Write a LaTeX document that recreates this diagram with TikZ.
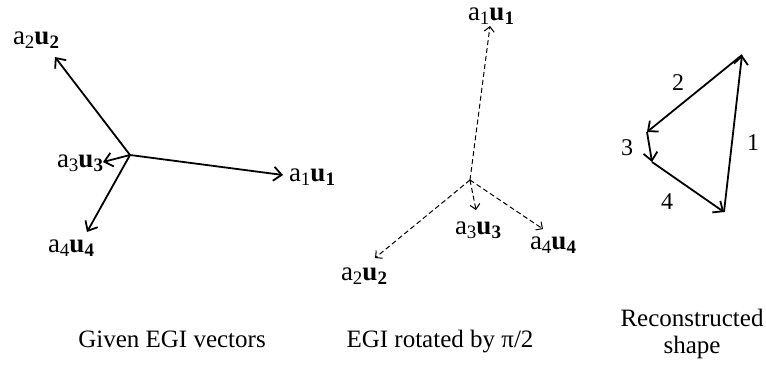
\documentclass[tikz,border=0pt]{standalone}
\usepackage{fontspec}
\setmainfont{Liberation Serif}
\usetikzlibrary{arrows.meta}
\newcommand\vlab[1]{a\raisebox{-0.3ex}{\fontsize{19}{19}\selectfont #1}\textbf{u\raisebox{-0.3ex}{\fontsize{19}{19}\selectfont #1}}}
\tikzset{
  lbl/.style={font=\fontsize{27}{30}\selectfont, inner sep=0pt},
  num/.style={font=\fontsize{24}{26}\selectfont, inner sep=0pt},
  captext/.style={font=\fontsize{25}{27}\selectfont, inner sep=0pt, anchor=base},
  solidvec/.style={line width=1.8pt, -{Straight Barb[length=8pt,width=14pt,line width=1.8pt]}},
  dashvec/.style={line width=1pt, dash pattern=on 5pt off 3pt, -{Straight Barb[length=5pt,width=10pt,line width=1pt]}},
  edgevec/.style={line width=1.8pt, -{Straight Barb[length=8pt,width=14pt,line width=1.8pt]}}
}
\begin{document}
\begin{tikzpicture}[x=1pt,y=-1pt]
\useasboundingbox (0,0) rectangle (766,370);
% left panel
\coordinate (c1) at (130,155);
\coordinate (l1) at (283,175);
\coordinate (l2) at (55,57);
\coordinate (l3) at (103,162);
\coordinate (l4) at (87,232);
\draw[solidvec] (c1) -- (l1);
\draw[solidvec] (c1) -- (l2);
\draw[solidvec] (c1) -- (l3);
\draw[solidvec] (c1) -- (l4);
\node[lbl] (t11) at (312,177) {\vlab{1}};
\node[lbl] (t12) at (36,40) {\vlab{2}};
\node[lbl] (t13) at (80,163) {\vlab{3}};
\node[lbl] (t14) at (71,248) {\vlab{4}};
% middle panel
\coordinate (c2) at (470,180);
\coordinate (m1) at (490,26);
\coordinate (m2) at (375,258);
\coordinate (m3) at (476,210);
\coordinate (m4) at (543,229);
\draw[dashvec] (c2) -- (m1);
\draw[dashvec] (c2) -- (m2);
\draw[dashvec] (c2) -- (m3);
\draw[dashvec] (c2) -- (m4);
\node[lbl] (t21) at (491,16) {\vlab{1}};
\node[lbl] (t22) at (364,276) {\vlab{2}};
\node[lbl] (t23) at (478,230) {\vlab{3}};
\node[lbl] (t24) at (553,245) {\vlab{4}};
% right panel
\coordinate (pt) at (742,55);
\coordinate (pl) at (647,132);
\coordinate (pm) at (652,162);
\coordinate (pb) at (724,212);
\draw[edgevec] (pb) -- (pt);
\draw[edgevec] (pt) -- (pl);
\draw[edgevec] (pl) -- (pm);
\draw[edgevec] (pm) -- (pb);
\node[num] (e1) at (753,143) {1};
\node[num] (e2) at (678,83) {2};
\node[num] (e3) at (627,148) {3};
\node[num] (e4) at (667,202) {4};
% captions
\node[captext] (cap1) at (172,347) {Given EGI vectors};
\node[captext] (cap2) at (440,347) {EGI rotated by π/2};
\node[captext] (cap3a) at (692,326) {Reconstructed};
\node[captext] (cap3b) at (692,353) {shape};
\end{tikzpicture}
\end{document}
